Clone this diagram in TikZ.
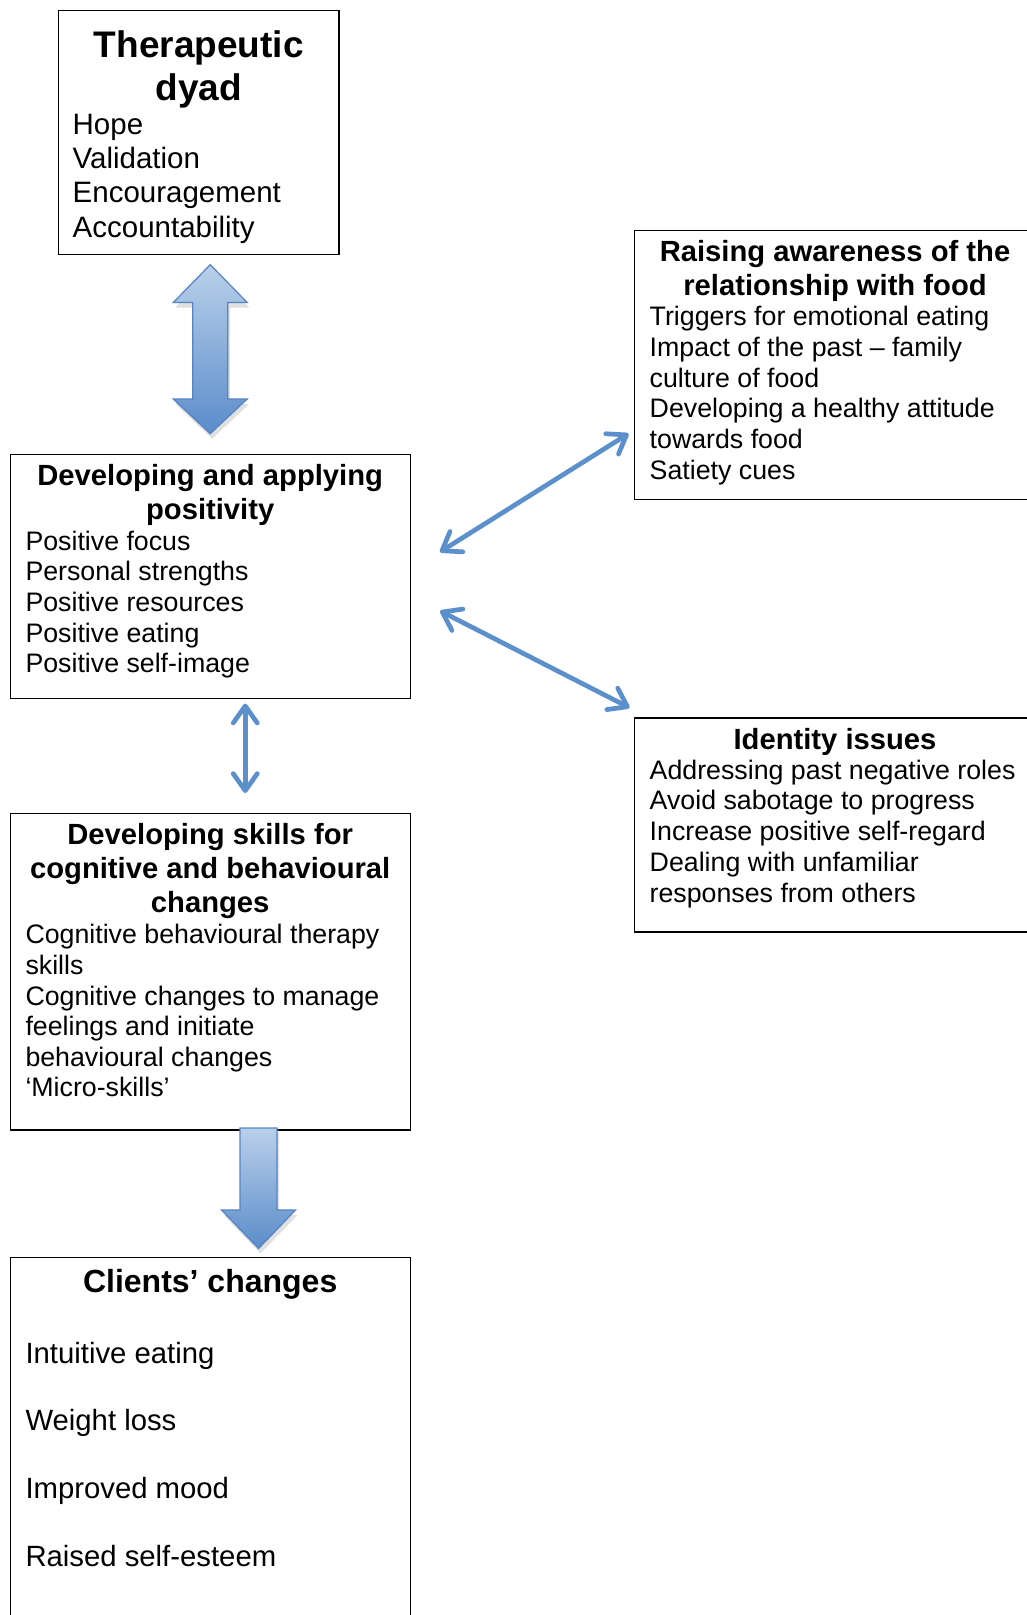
\documentclass[tikz,border=0pt]{standalone}
\usepackage{fontspec}
\setmainfont{Liberation Sans}
\usetikzlibrary{arrows.meta,calc}
\definecolor{arrowblue}{RGB}{91,144,205}
\definecolor{blocktop}{RGB}{186,208,234}
\definecolor{blockbot}{RGB}{90,140,202}
\definecolor{blockline}{RGB}{84,132,194}
\begin{document}
\begin{tikzpicture}[x=1pt,y=-1pt,
  box/.style={draw=black, line width=1.2pt, inner sep=0pt, outer sep=0pt, anchor=north west},
  ttlbig/.style={anchor=base, inner sep=0pt, font=\bfseries\fontsize{37}{42}\selectfont},
  ttl/.style={anchor=base, inner sep=0pt, font=\bfseries\fontsize{29.2}{34}\selectfont},
  ttlc/.style={anchor=base, inner sep=0pt, font=\bfseries\fontsize{32}{37}\selectfont},
  bodybig/.style={anchor=base west, inner sep=0pt, font=\fontsize{29.5}{34}\selectfont},
  bodyc/.style={anchor=base west, inner sep=0pt, font=\fontsize{29.3}{34}\selectfont},
  body/.style={anchor=base west, inner sep=0pt, font=\fontsize{26.75}{30.6}\selectfont},
  blockarrow/.style={draw=blockline, line width=1.2pt, line join=miter, top color=blocktop, bottom color=blockbot},
  blockshadow/.style={fill=black, opacity=0.12},
  tarrow/.style={draw=arrowblue, line width=4.7pt, line cap=round, >={Straight Barb[length=17pt,width=24pt,round]}, <->}
]
\useasboundingbox (0,0) rectangle (1026,1615);
\fill[white] (0,0) rectangle (1026,1615);

% boxes
\node[box, minimum width=280.2pt, minimum height=244.1pt] (dyad) at (58.7,10.3) {};
\node[box, minimum width=401pt, minimum height=268.9pt] (raise) at (634.5,230.7) {};
\node[box, minimum width=399.9pt, minimum height=244.1pt] (pos) at (10.3,454.3) {};
\node[box, minimum width=401pt, minimum height=214pt] (ident) at (634.5,718) {};
\node[box, minimum width=399.9pt, minimum height=316.2pt] (skills) at (10.3,813.8) {};
\node[box, minimum width=399.9pt, minimum height=420pt] (clients) at (10.3,1257.8) {};

% titles
\node[ttlbig] (dyt1) at (198.8,57.5) {Therapeutic};
\node[ttlbig] (dyt2) at (198.8,100) {dyad};
\node[ttl] (rat1) at (835,261.8) {Raising awareness of the};
\node[ttl] (rat2) at (835,295.8) {relationship with food};
\node[ttl] (pot1) at (210.2,485.3) {Developing and applying};
\node[ttl] (pot2) at (210.2,519.3) {positivity};
\node[ttl] (idt1) at (835,749) {Identity issues};
\node[ttl] (skt1) at (210.2,844.8) {Developing skills for};
\node[ttl] (skt2) at (210.2,878.8) {cognitive and behavioural};
\node[ttl] (skt3) at (210.2,912.6) {changes};
\node[ttlc] (clt1) at (210.2,1292.9) {Clients’ changes};

% bodies
\foreach \t [count=\i from 0] in {Hope,Validation,Encouragement,Accountability}
  \node[bodybig] (dyb\i) at (72.5,{134.1+34.3*\i}) {\t};
\foreach \t [count=\i from 0] in {Triggers for emotional eating,Impact of the past – family,culture of food,Developing a healthy attitude,towards food,Satiety cues}
  \node[body] (rab\i) at (649.5,{325.7+30.7*\i}) {\t};
\foreach \t [count=\i from 0] in {Positive focus,Personal strengths,Positive resources,Positive eating,Positive self-image}
  \node[body] (pob\i) at (25.3,{550.3+30.6*\i}) {\t};
\foreach \t [count=\i from 0] in {Addressing past negative roles,Avoid sabotage to progress,Increase positive self-regard,Dealing with unfamiliar,responses from others}
  \node[body] (idb\i) at (649.5,{779+30.9*\i}) {\t};
\foreach \t [count=\i from 0] in {Cognitive behavioural therapy,skills,Cognitive changes to manage,feelings and initiate,behavioural changes,‘Micro-skills’}
  \node[body] (skb\i) at (25.3,{943.8+30.6*\i}) {\t};
\foreach \t [count=\i from 0] in {Intuitive eating,Weight loss,Improved mood,Raised self-esteem}
  \node[bodyc] (clb\i) at (25.3,{1363+67.7*\i}) {\t};

% big double block arrow between dyad and positivity
\coordinate (bta) at ($(pos.north)+(0,-189.6)$);
\begin{scope}[shift={(bta)}]
  \fill[blockshadow, shift={(2,5)}] (0,0) -- (37,37.8) -- (17.5,37.8) -- (17.5,134.3) -- (37,134.3) -- (0,169) -- (-37,134.3) -- (-17.5,134.3) -- (-17.5,37.8) -- (-37,37.8) -- cycle;
  \path[blockarrow] (0,0) -- (37,37.8) -- (17.5,37.8) -- (17.5,134.3) -- (37,134.3) -- (0,169) -- (-37,134.3) -- (-17.5,134.3) -- (-17.5,37.8) -- (-37,37.8) -- cycle;
\end{scope}

% down block arrow between skills and clients
\coordinate (bdn) at ($(skills.south)+(48.3,-2)$);
\begin{scope}[shift={(bdn)}]
  \fill[blockshadow, shift={(2,5)}] (-18.5,0) -- (18.5,0) -- (18.5,82) -- (37,82) -- (0,120.5) -- (-37,82) -- (-18.5,82) -- cycle;
  \path[blockarrow] (-18.5,0) -- (18.5,0) -- (18.5,82) -- (37,82) -- (0,120.5) -- (-37,82) -- (-18.5,82) -- cycle;
\end{scope}

% thin double arrows
\draw[tarrow] ([shift={(35,5.2)}]pos.south) -- ([shift={(35,-20.8)}]skills.north);
\draw[tarrow] ([shift={(29.8,-24.4)}]pos.east) -- ([shift={(-6,68.5)}]raise.west);
\draw[tarrow] ([shift={(30,34.6)}]pos.east) -- ([shift={(-5,-10.3)}]ident.north west);
\end{tikzpicture}
\end{document}
